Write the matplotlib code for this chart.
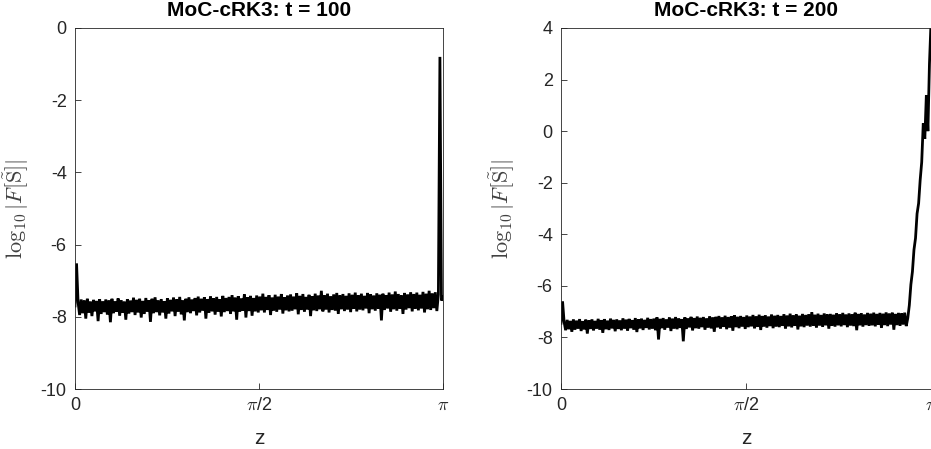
import numpy as np
import matplotlib
matplotlib.use("Agg")
import matplotlib.pyplot as plt

# ---------------- data ----------------
titles = ["MoC-cRK3: t = 100", "MoC-cRK3: t = 200"]
ylims = [(-10, 0), (-10, 4)]
yticks_left = [-10, -8, -6, -4, -2, 0]
yticks_right = [-10, -8, -6, -4, -2, 0, 2, 4]
xtick_labels = ["0", r"$\pi$/2", r"$\pi$"]

# log10 |F[S]| at t = 100 (240 samples over z in [0, pi])
spec_t100 = [
    -7.70, -6.52, -7.60, -7.95, -7.52, -7.90, -7.55, -8.05, -7.50, -7.88, -7.58, -7.98, -7.53, -7.85, -7.56, -8.12, -7.51, -7.92, -7.57, -7.87,
    -7.52, -7.94, -7.55, -8.15, -7.50, -7.90, -7.57, -7.86, -7.49, -7.97, -7.54, -7.89, -7.58, -8.08, -7.51, -7.91, -7.55, -7.87, -7.47, -7.95,
    -7.53, -7.88, -7.50, -8.02, -7.56, -7.92, -7.48, -7.86, -7.54, -8.14, -7.50, -7.90, -7.46, -7.87, -7.55, -7.96, -7.51, -7.88, -7.57, -8.05,
    -7.49, -7.91, -7.53, -7.85, -7.47, -7.98, -7.52, -7.86, -7.45, -7.93, -7.55, -8.10, -7.50, -7.87, -7.46, -7.90, -7.52, -7.84, -7.48, -7.96,
    -7.44, -7.88, -7.50, -7.83, -7.46, -8.05, -7.51, -7.89, -7.43, -7.85, -7.49, -7.94, -7.45, -7.86, -7.52, -7.99, -7.42, -7.87, -7.48, -7.84,
    -7.45, -7.92, -7.40, -7.85, -7.47, -8.08, -7.43, -7.86, -7.49, -7.83, -7.38, -8.02, -7.46, -7.84, -7.42, -7.97, -7.48, -7.85, -7.41, -7.88,
    -7.44, -7.82, -7.36, -7.88, -7.45, -7.81, -7.40, -7.95, -7.47, -7.83, -7.39, -7.86, -7.44, -7.80, -7.37, -7.91, -7.46, -7.82, -7.41, -7.85,
    -7.38, -7.83, -7.44, -7.79, -7.35, -7.93, -7.42, -7.81, -7.37, -7.86, -7.45, -7.80, -7.39, -7.98, -7.43, -7.82, -7.36, -7.84, -7.41, -7.79,
    -7.28, -7.85, -7.40, -7.80, -7.36, -7.88, -7.43, -7.81, -7.38, -7.83, -7.34, -7.92, -7.41, -7.79, -7.37, -7.84, -7.42, -7.80, -7.35, -7.87,
    -7.39, -7.78, -7.33, -7.85, -7.40, -7.80, -7.36, -7.82, -7.42, -7.77, -7.34, -7.90, -7.38, -7.79, -7.41, -7.83, -7.35, -7.78, -7.39, -8.10,
    -7.36, -7.81, -7.40, -7.77, -7.33, -7.86, -7.38, -7.79, -7.30, -7.83, -7.37, -7.78, -7.41, -7.92, -7.34, -7.80, -7.38, -7.76, -7.32, -7.85,
    -7.37, -7.78, -7.33, -7.82, -7.39, -7.77, -7.31, -7.88, -7.36, -7.79, -7.28, -7.81, -7.35, -7.76, -7.32, -7.84, -7.38, -0.80, -7.55, -7.45,
]

# log10 |F[S]| at t = 200 (240 samples over z in [0, pi])
spec_t200 = [
    -7.45, -6.60, -7.40, -7.72, -7.32, -7.68, -7.36, -7.78, -7.30, -7.70, -7.35, -7.66, -7.29, -7.75, -7.37, -7.69, -7.31, -7.85, -7.34, -7.67,
    -7.30, -7.73, -7.36, -7.66, -7.28, -7.70, -7.33, -7.82, -7.29, -7.68, -7.35, -7.71, -7.27, -7.65, -7.32, -7.76, -7.30, -7.67, -7.34, -7.72,
    -7.26, -7.66, -7.31, -7.74, -7.28, -7.64, -7.33, -7.70, -7.25, -7.79, -7.30, -7.65, -7.27, -7.71, -7.32, -7.63, -7.24, -7.69, -7.29, -7.66,
    -7.27, -7.72, -7.22, -8.08, -7.28, -7.64, -7.25, -7.70, -7.30, -7.62, -7.23, -7.75, -7.27, -7.66, -7.21, -7.68, -7.26, -7.63, -7.29, -8.15,
    -7.22, -7.67, -7.26, -7.61, -7.20, -7.73, -7.25, -7.64, -7.19, -7.66, -7.24, -7.60, -7.21, -7.70, -7.26, -7.62, -7.18, -7.65, -7.23, -7.78,
    -7.20, -7.61, -7.17, -7.66, -7.22, -7.59, -7.16, -7.68, -7.21, -7.62, -7.18, -7.74, -7.14, -7.60, -7.20, -7.64, -7.17, -7.58, -7.21, -7.67,
    -7.15, -7.60, -7.19, -7.57, -7.13, -7.65, -7.18, -7.59, -7.12, -7.71, -7.17, -7.58, -7.14, -7.62, -7.19, -7.56, -7.11, -7.64, -7.16, -7.58,
    -7.13, -7.60, -7.17, -7.55, -7.10, -7.66, -7.15, -7.57, -7.08, -7.61, -7.14, -7.55, -7.11, -7.69, -7.16, -7.57, -7.09, -7.60, -7.13, -7.54,
    -7.10, -7.58, -7.02, -7.55, -7.12, -7.62, -7.08, -7.54, -7.13, -7.59, -7.07, -7.53, -7.11, -7.66, -7.09, -7.55, -7.12, -7.58, -7.06, -7.53,
    -7.10, -7.57, -7.05, -7.52, -7.11, -7.60, -7.07, -7.54, -7.10, -7.56, -7.04, -7.72, -7.09, -7.53, -7.06, -7.58, -7.11, -7.52, -7.05, -7.55,
    -7.08, -7.53, -7.04, -7.57, -7.09, -7.51, -7.05, -7.63, -7.08, -7.52, -7.03, -7.56, -7.07, -7.50, -7.04, -7.70, -7.09, -7.52, -7.05, -7.55,
    -7.06, -7.50, -7.04, -7.56, -7.25, -6.75, -5.95, -5.45, -4.60, -4.15, -3.20, -2.80, -1.90, -1.20, 0.30, -0.30, 1.40, 0.00, 2.60, 4.20,
]

series = [spec_t100, spec_t200]

# ---------------- styling ----------------
plt.rcParams["font.family"] = ["Liberation Sans", "DejaVu Sans"]
plt.rcParams["mathtext.fontset"] = "cm"
axcol = "#262626"

fig = plt.figure(figsize=(9.31, 4.49), dpi=100)
W, H = 931.0, 449.0
positions = [
    [75 / W, 60 / H, 368 / W, 361 / H],
    [561 / W, 60 / H, 370 / W, 361 / H],
]
ytick_sets = [yticks_left, yticks_right]

for k in range(2):
    ax = fig.add_axes(positions[k])
    vals = np.array(series[k])
    z = np.linspace(0, np.pi, len(vals))
    ax.plot(z, vals, color="black", lw=2.0, solid_joinstyle="miter")
    ax.set_xlim(0, np.pi)
    ax.set_ylim(*ylims[k])
    ax.set_yticks(ytick_sets[k])
    ax.set_yticklabels([str(v) for v in ytick_sets[k]])
    ax.set_xticks([0, np.pi / 2, np.pi])
    ax.set_xticklabels(xtick_labels)
    ax.tick_params(direction="in", length=4, width=0.6, color=axcol,
                   labelcolor=axcol, labelsize=13, top=False, right=False)
    ax.tick_params(axis="y", pad=6)
    ax.tick_params(axis="x", pad=6)
    for s in ax.spines.values():
        s.set_color(axcol)
        s.set_linewidth(0.6)
    ax.set_title(titles[k], fontsize=15, fontweight="bold", color="black", pad=8.5)
    ax.set_xlabel("z", fontsize=15, color=axcol)
    ax.set_ylabel(r"$\log_{10}|F[\tilde{\mathrm{S}}]|$", fontsize=16, color="#404040")
    ax.xaxis.set_label_coords(0.5, -0.11)
    ax.yaxis.set_label_coords(-0.12, 0.5)

fig.savefig("out.png", dpi=100)
